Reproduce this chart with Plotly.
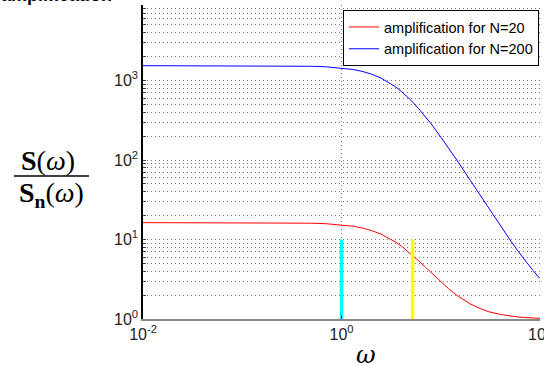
import plotly.graph_objects as go

# ---- data ----
omega = [0.01, 0.1, 0.2, 0.3, 0.5, 0.7, 1, 1.3, 1.6, 2, 2.5, 3, 3.5, 4, 5, 6, 7, 8,
         10, 12, 15, 20, 25, 30, 40, 50, 60, 70, 85, 100]
amp_N20 = [16.30, 16.29, 16.26, 16.21, 16.04, 15.80, 15.31, 14.70, 14.00, 12.99, 11.69,
           10.44, 9.29, 8.28, 6.62, 5.39, 4.49, 3.83, 2.94, 2.40, 1.93, 1.54, 1.35,
           1.24, 1.14, 1.09, 1.06, 1.045, 1.03, 1.02]
amp_N200 = [1536, 1535, 1532, 1527, 1510, 1486, 1437, 1376, 1306, 1204, 1074, 948, 833,
            731, 565, 442, 352, 285, 195, 141, 94, 54.7, 35.8, 25.3, 14.8, 9.85, 7.16,
            5.53, 4.07, 3.22]
series_names = ["amplification for N=20", "amplification for N=200"]
marker_omegas = [1.0, 5.2]          # cyan and yellow vertical markers
marker_range = [1, 10]
x_tick_vals = [0.01, 1, 100]
x_tick_text = ["10<sup>-2</sup>", "10<sup>0</sup>", "10<sup>2</sup>"]
y_decades = [0, 1, 2, 3]

# ---- layout geometry (pixels) ----
W, H = 544, 366
L, R, T, B = 143, 4, 5, 47
pw, ph = W - L - R, H - T - B

def px(x):
    return (x - L) / pw

def py(y):
    return (H - B - y) / ph

y_tick_vals, y_tick_text = [], []
for d in y_decades:
    for m in range(1, 10):
        y_tick_vals.append(m * 10 ** d)
        y_tick_text.append(f"10<sup>{d}</sup>" if m == 1 else "")

fig = go.Figure()
fig.add_trace(go.Scatter(x=omega, y=amp_N20, mode="lines", name=series_names[0],
                         line=dict(color="#ff0000", width=1)))
fig.add_trace(go.Scatter(x=omega, y=amp_N200, mode="lines", name=series_names[1],
                         line=dict(color="#0000ff", width=1)))
for xv, col in zip(marker_omegas, ["#00ffff", "#ffff00"]):
    fig.add_trace(go.Scatter(x=[xv, xv], y=marker_range, mode="lines", showlegend=False,
                             line=dict(color=col, width=3.5), hoverinfo="skip"))

grid_dash = "1px,3px"
tick_font = dict(family="Liberation Sans, Arial", size=16, color="#222")
fig.update_xaxes(type="log", range=[-2, 2], tickvals=x_tick_vals, ticktext=x_tick_text,
                 showgrid=True, gridcolor="#777", griddash=grid_dash, gridwidth=1,
                 showline=True, linecolor="#888", linewidth=2, ticks="inside", ticklen=4,
                 tickcolor="#444", zeroline=False, automargin=False, tickfont=tick_font,
                 ticklabeloverflow="allow")
fig.update_yaxes(type="log", range=[0, ph / 79.5], tickvals=y_tick_vals, ticktext=y_tick_text,
                 showgrid=True, gridcolor="#777", griddash=grid_dash, gridwidth=1,
                 showline=True, linecolor="#000", linewidth=1.5, ticks="inside", ticklen=3,
                 tickcolor="#444", zeroline=False, automargin=False, tickfont=tick_font,
                 ticklabeloverflow="allow")

annotations = [
    dict(text="<b>amplification</b>", xref="paper", yref="paper", x=px(-1), y=py(7),
         xanchor="left", yanchor="bottom", showarrow=False,
         font=dict(family="Liberation Sans, Arial", size=18, color="#000")),
    dict(text="<i>ω</i>", xref="paper", yref="paper", x=px(366), y=py(355),
         xanchor="center", yanchor="middle", showarrow=False,
         font=dict(family="DejaVu Serif", size=24, color="#000")),
    dict(text="<b>S</b>(<i>ω</i>)", xref="paper", yref="paper", x=px(48), y=py(160),
         xanchor="center", yanchor="middle", showarrow=False,
         font=dict(family="Liberation Serif", size=28, color="#000")),
    dict(text="<b>S<sub>n</sub></b>(<i>ω</i>)", xref="paper", yref="paper", x=px(51), y=py(194),
         xanchor="center", yanchor="middle", showarrow=False,
         font=dict(family="Liberation Serif", size=28, color="#000")),
]
shapes = [dict(type="line", xref="paper", yref="paper", x0=px(14), x1=px(89),
               y0=py(176), y1=py(176), line=dict(color="#000", width=1.5))]

fig.update_layout(
    width=W, height=H, margin=dict(l=L, r=R, t=T, b=B),
    paper_bgcolor="white", plot_bgcolor="white",
    showlegend=True,
    legend=dict(x=px(343), y=py(10), xanchor="left", yanchor="top",
                bgcolor="white", bordercolor="#000", borderwidth=1,
                font=dict(family="Liberation Sans, Arial", size=14.5, color="#000"),
                tracegroupgap=0, itemwidth=30),
    annotations=annotations, shapes=shapes,
)

fig.write_html("out.html", config={"displayModeBar": False},
               post_script="document.body.style.margin='0px';")
